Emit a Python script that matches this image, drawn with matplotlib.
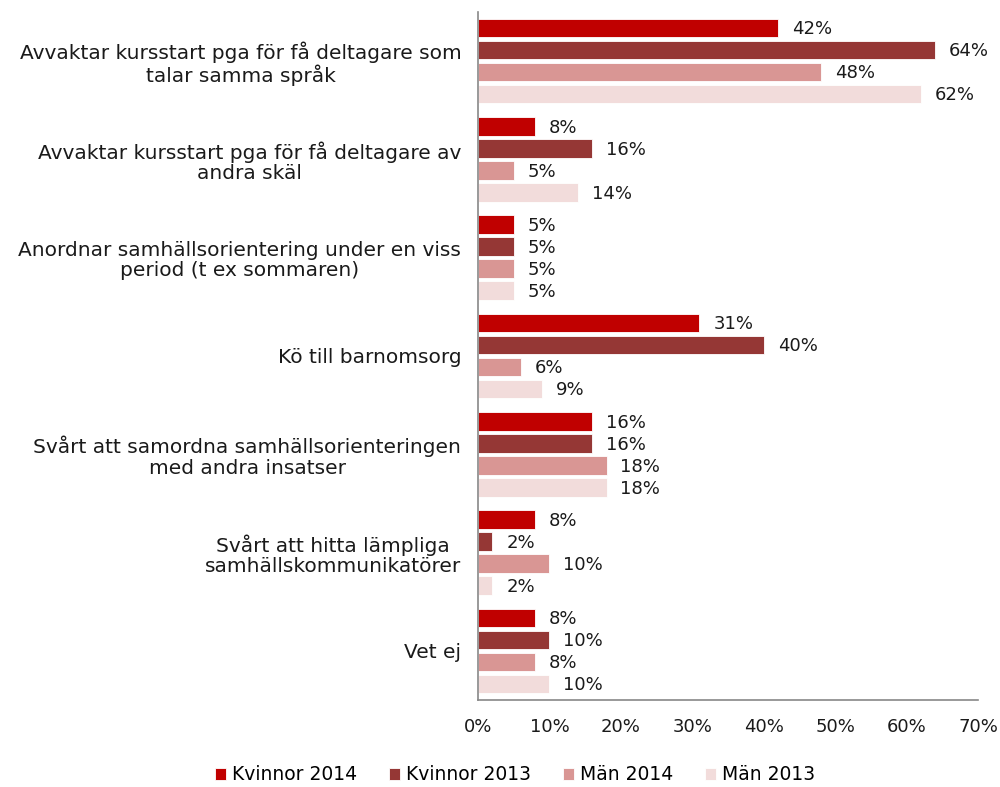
import numpy as np
import matplotlib
matplotlib.use('Agg')
import matplotlib.pyplot as plt

plt.rcParams['font.family'] = ['DejaVu Sans']

categories = [
    'Avvaktar kursstart pga för få deltagare som\ntalar samma språk',
    'Avvaktar kursstart pga för få deltagare av\nandra skäl',
    'Anordnar samhällsorientering under en viss\nperiod (t ex sommaren)',
    'Kö till barnomsorg',
    'Svårt att samordna samhällsorienteringen\nmed andra insatser',
    'Svårt att hitta lämpliga\nsamhällskommunikatörer',
    'Vet ej',
]
series_names = ['Kvinnor 2014', 'Kvinnor 2013', 'Män 2014', 'Män 2013']
kvinnor_2014 = [42, 8, 5, 31, 16, 8, 8]
kvinnor_2013 = [64, 16, 5, 40, 16, 2, 10]
man_2014 = [48, 5, 5, 6, 18, 10, 8]
man_2013 = [62, 14, 5, 9, 18, 2, 10]
colors = ['#C00000', '#953735', '#D99694', '#F2DCDB']

fig = plt.figure(figsize=(10, 7.87), dpi=100)
ax = fig.add_axes([0.478, 0.1105, 0.5, 0.8745])

series = [kvinnor_2014, kvinnor_2013, man_2014, man_2013]
y = np.arange(len(categories))
step = 0.224
for i, (vals, name, c) in enumerate(zip(series, series_names, colors)):
    pos = y - 1.5 * step + i * step
    bars = ax.barh(pos, vals, height=0.19, color=c, edgecolor='white',
                   linewidth=0.6, label=name)
    for b, v in zip(bars, vals):
        ax.annotate(f'{v}%', (b.get_width(), b.get_y() + b.get_height() / 2),
                    xytext=(10, -1), textcoords='offset points',
                    ha='left', va='center', fontsize=13, color='#1a1a1a')

ax.set_ylim(len(categories) - 0.5, -0.5)
ax.set_xlim(0, 70)
ax.set_xticks(np.arange(0, 71, 10))
ax.set_xticklabels([f'{t}%' for t in range(0, 71, 10)], fontsize=13)
ax.set_yticks(y)
ax.set_yticklabels(categories, fontsize=14.5)
for lbl in ax.get_yticklabels():
    lbl.set_multialignment('center')
    lbl.set_linespacing(1.1)
ax.tick_params(axis='both', length=0, colors='#1a1a1a')
ax.tick_params(axis='x', pad=13)
ax.tick_params(axis='y', pad=12)
for s in ['top', 'right']:
    ax.spines[s].set_visible(False)
for s in ['left', 'bottom']:
    ax.spines[s].set_color('#888888')
    ax.spines[s].set_linewidth(1.2)

fig.legend(loc='lower center', bbox_to_anchor=(0.515, -0.018), ncol=4,
           frameon=False, fontsize=13.5, handlelength=0.6, handleheight=0.6,
           handletextpad=0.3, columnspacing=1.7)

fig.savefig('out.png', dpi=100)
